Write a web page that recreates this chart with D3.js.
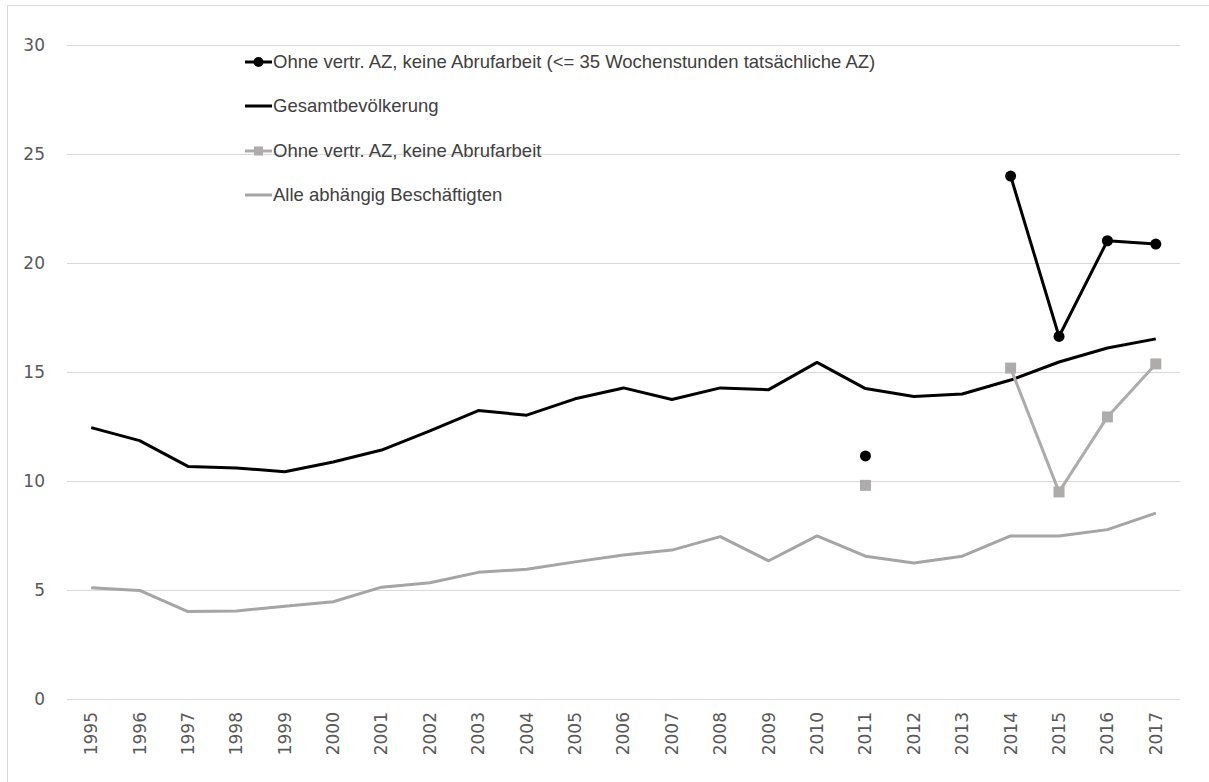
<!DOCTYPE html>
<html>
<head>
<meta charset="utf-8">
<script src="https://cdn.jsdelivr.net/npm/d3@7"></script>
<style>
  html, body { margin: 0; padding: 0; background: #fff; }
  svg { display: block; }
</style>
</head>
<body>
<svg id="chart" width="1209" height="782"></svg>
<script>
const years = [1995,1996,1997,1998,1999,2000,2001,2002,2003,2004,2005,2006,2007,2008,2009,2010,2011,2012,2013,2014,2015,2016,2017];
const gesamt = [12.45,11.85,10.67,10.6,10.42,10.87,11.42,12.3,13.23,13.02,13.77,14.27,13.74,14.27,14.19,15.44,14.24,13.88,13.99,14.63,15.46,16.1,16.52];
const alleBeschaeftigten = [5.1,4.98,4.01,4.04,4.25,4.46,5.13,5.33,5.81,5.95,6.29,6.61,6.83,7.45,6.34,7.48,6.55,6.24,6.55,7.48,7.48,7.77,8.53];
const ohneAZ = [null,null,null,null,null,null,null,null,null,null,null,null,null,null,null,null,9.8,null,null,15.18,9.5,12.94,15.37];
const ohneAZ35 = [null,null,null,null,null,null,null,null,null,null,null,null,null,null,null,null,11.15,null,null,23.99,16.63,21.02,20.87];
const yTicks = [0,5,10,15,20,25,30];
const legendLabels = [
  "Ohne vertr. AZ, keine Abrufarbeit (<= 35 Wochenstunden tatsächliche AZ)",
  "Gesamtbevölkerung",
  "Ohne vertr. AZ, keine Abrufarbeit",
  "Alle abhängig Beschäftigten"
];

(function () {
const svg = d3.select("#chart");
const pLeft = 67, pRight = 1180, pTop = 45, pBottom = 699;

// outer chart border
svg.append("rect").attr("x", 7.5).attr("y", 5.5).attr("width", 1220).attr("height", 800)
  .attr("fill", "none").attr("stroke", "#d9d9d9").attr("stroke-width", 1);

const x = d3.scaleBand().domain(years).range([pLeft, pRight]);
const y = d3.scaleLinear().domain([0, 30]).range([pBottom, pTop]);
const cx = d => x(d) + x.bandwidth() / 2;

// grid
svg.append("g").selectAll("line").data(yTicks).join("line")
  .attr("x1", pLeft).attr("x2", pRight)
  .attr("y1", d => Math.round(y(d)) + 0.5).attr("y2", d => Math.round(y(d)) + 0.5)
  .attr("stroke", "#d9d9d9").attr("stroke-width", 1);

// y axis labels
const yAxis = d3.axisLeft(y).tickValues(yTicks).tickSize(0).tickPadding(0);
const gy = svg.append("g").attr("transform", "translate(45,0)").call(yAxis);
gy.select(".domain").remove();
gy.selectAll("text").attr("font-family", "DejaVu Sans").attr("font-size", 17).attr("fill", "#595959").attr("dy", "0.35em");

// x axis labels
const xAxis = d3.axisBottom(x).tickSize(0).tickPadding(0);
const gx = svg.append("g").attr("transform", `translate(0,${pBottom})`).call(xAxis);
gx.select(".domain").remove();
gx.selectAll("text")
  .attr("font-family", "DejaVu Sans").attr("font-size", 17).attr("fill", "#595959")
  .attr("transform", "rotate(-90)")
  .attr("text-anchor", "end")
  .attr("x", -13).attr("y", 0).attr("dy", "0.35em");

const idx = years.map((d, i) => i);
const line = arr => d3.line().defined(i => arr[i] != null).x(i => cx(years[i])).y(i => y(arr[i]));

const grayLine = "#a5a5a5";
const graySq = "#aeabab";

svg.append("path").attr("d", line(alleBeschaeftigten)(idx)).attr("fill", "none")
  .attr("stroke", grayLine).attr("stroke-width", 3).attr("stroke-linejoin", "round");
svg.append("path").attr("d", line(gesamt)(idx)).attr("fill", "none")
  .attr("stroke", "#000").attr("stroke-width", 3).attr("stroke-linejoin", "round");
svg.append("path").attr("d", line(ohneAZ)(idx)).attr("fill", "none")
  .attr("stroke", graySq).attr("stroke-width", 3).attr("stroke-linejoin", "round");
svg.append("path").attr("d", line(ohneAZ35)(idx)).attr("fill", "none")
  .attr("stroke", "#000").attr("stroke-width", 3).attr("stroke-linejoin", "round");

const s = 11;
svg.append("g").selectAll("rect").data(idx.filter(i => ohneAZ[i] != null)).join("rect")
  .attr("x", i => cx(years[i]) - s / 2).attr("y", i => y(ohneAZ[i]) - s / 2)
  .attr("width", s).attr("height", s).attr("fill", graySq);
svg.append("g").selectAll("circle").data(idx.filter(i => ohneAZ35[i] != null)).join("circle")
  .attr("cx", i => cx(years[i])).attr("cy", i => y(ohneAZ35[i]))
  .attr("r", 5.5).attr("fill", "#000");

// legend
const legY = [62, 106, 151, 195];
const legStyles = [
  {stroke: "#000", marker: "circle"},
  {stroke: "#000", marker: null},
  {stroke: graySq, marker: "square"},
  {stroke: grayLine, marker: null}
];
const lg = svg.append("g");
legendLabels.forEach((lab, i) => {
  const yy = legY[i];
  const st = legStyles[i];
  lg.append("line").attr("x1", 245).attr("x2", 272).attr("y1", yy).attr("y2", yy)
    .attr("stroke", st.stroke).attr("stroke-width", 3);
  if (st.marker === "circle") lg.append("circle").attr("cx", 258.5).attr("cy", yy).attr("r", 5).attr("fill", "#000");
  if (st.marker === "square") lg.append("rect").attr("x", 254).attr("y", yy - 4.5).attr("width", 9).attr("height", 9).attr("fill", graySq);
  lg.append("text").attr("x", 273).attr("y", yy).attr("dy", "0.35em")
    .attr("font-family", "Liberation Sans, sans-serif")
    .attr("font-size", 18.5).attr("fill", "#404040").text(lab);
});
})();
</script>
</body>
</html>
